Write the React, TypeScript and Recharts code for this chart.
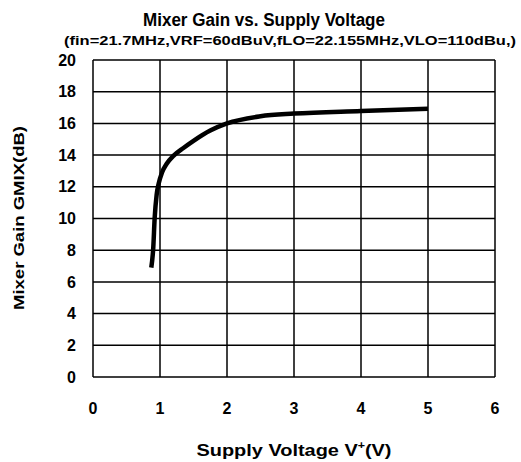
import { LineChart, Line, XAxis, YAxis, CartesianGrid } from 'recharts';

// Supply voltage (V) and mixer gain (dB)
const voltage = [0.87, 0.9, 0.92, 0.95, 0.98, 1.03, 1.1, 1.2, 1.35, 1.5, 1.75, 2.0, 2.5, 3.0, 4.0, 5.0];
const gain = [6.9, 8.2, 10.0, 11.5, 12.2, 12.9, 13.45, 13.95, 14.45, 14.9, 15.55, 16.0, 16.45, 16.62, 16.78, 16.92];

const xTicks = [0, 1, 2, 3, 4, 5, 6];
const yTicks = [0, 2, 4, 6, 8, 10, 12, 14, 16, 18, 20];

const title = 'Mixer Gain vs. Supply Voltage';
const subtitle = '(fin=21.7MHz,VRF=60dBuV,fLO=22.155MHz,VLO=110dBu,)';
const xLabel = 'Supply Voltage V';
const yLabel = 'Mixer Gain GMIX(dB)';

const FONT = '"Liberation Sans", Arial, sans-serif';

const data = voltage.map((v, i) => ({ v, g: gain[i] }));

const XLabel = ({ viewBox }: any) => {
  const cx = viewBox.x + viewBox.width / 2;
  return (
    <text
      x={cx}
      y={456}
      textAnchor="middle"
      fontFamily={FONT}
      fontWeight="bold"
      fontSize={16}
      fill="#000"
      textLength={195}
      lengthAdjust="spacingAndGlyphs"
    >
      {xLabel}
      <tspan dy={-7} fontSize={10}>+</tspan>
      <tspan dy={7}>(V)</tspan>
    </text>
  );
};

const YLabel = () => (
  <text
    x={0}
    y={0}
    transform="translate(24, 218) rotate(-90)"
    textAnchor="middle"
    fontFamily={FONT}
    fontWeight="bold"
    fontSize={15}
    fill="#000"
    textLength={184}
    lengthAdjust="spacingAndGlyphs"
  >
    {yLabel}
  </text>
);

export default function App() {
  return (
    <div style={{ position: 'absolute', left: 0, top: 0, width: 521, height: 462, background: '#fff' }}>
      <svg width={521} height={70} style={{ position: 'absolute', left: 0, top: 0 }}>
        <text
          x={264}
          y={26}
          textAnchor="middle"
          fontFamily={FONT}
          fontWeight="bold"
          fontSize={18}
          textLength={242}
          lengthAdjust="spacingAndGlyphs"
        >
          {title}
        </text>
        <text
          x={290}
          y={45}
          textAnchor="middle"
          fontFamily={FONT}
          fontWeight="bold"
          fontSize={13}
          textLength={452}
          lengthAdjust="spacingAndGlyphs"
        >
          {subtitle}
        </text>
      </svg>
      <LineChart
        width={521}
        height={462}
        data={data}
        margin={{ top: 60, right: 26, bottom: 0, left: 0 }}
      >
        <CartesianGrid stroke="#000" strokeWidth={1.5} />
        <XAxis
          dataKey="v"
          type="number"
          domain={[0, 6]}
          ticks={xTicks}
          axisLine={false}
          tickLine={false}
          tickSize={0}
          tickMargin={26}
          height={85}
          tick={{ fill: '#000', fontFamily: FONT, fontWeight: 'bold', fontSize: 16 }}
          label={<XLabel />}
        />
        <YAxis
          type="number"
          domain={[0, 20]}
          ticks={yTicks}
          axisLine={false}
          tickLine={false}
          tickSize={0}
          tickMargin={17}
          width={93}
          tick={{ fill: '#000', fontFamily: FONT, fontWeight: 'bold', fontSize: 16 }}
          label={<YLabel />}
        />
        <Line
          dataKey="g"
          type="monotone"
          stroke="#000"
          strokeWidth={4.5}
          dot={false}
          isAnimationActive={false}
        />
      </LineChart>
    </div>
  );
}
